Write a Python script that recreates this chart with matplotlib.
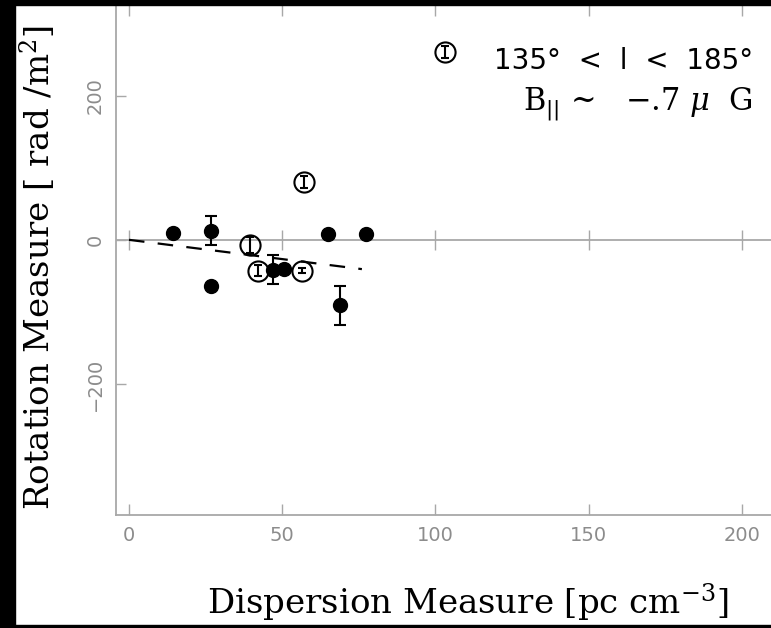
import matplotlib
matplotlib.use("Agg")
import matplotlib.pyplot as plt
from matplotlib.patches import Rectangle
import numpy as np

# ---- data ----
filled_dm = [14.5, 26.6, 26.6, 46.9, 50.7, 65.0, 69.0, 77.5]
filled_rm = [10.0, 12.5, -64.0, -41.7, -39.8, 8.3, -90.7, 8.3]
filled_err = [0, 20, 0, 20, 0, 0, 27, 0]

open_dm = [39.5, 42.0, 56.4, 57.0]
open_rm = [-7.0, -42.6, -42.6, 80.0]
open_err = [11, 8, 4, 8]

legend_dm = [103.0]
legend_rm = [261.0]
legend_err = [8]

fit_dm = [0.0, 76.0]
fit_slope = -0.535

xticks = [0, 50, 100, 150, 200]
yticks = [-200, 0, 200]
xlim = (-4.24, 209.5)
ylim = (-382, 326)

W, H = 771, 628
GRAY = "#a8a8a8"
LABGRAY = "#8c8c8c"

plt.rcParams["mathtext.fontset"] = "dejavuserif"

fig = plt.figure(figsize=(W / 100, H / 100), dpi=100, facecolor="white")
ax = fig.add_axes([116 / W, (H - 515) / H, 655 / W, 510 / H])
ax.set_xlim(*xlim)
ax.set_ylim(*ylim)

for s in ("top", "right"):
    ax.spines[s].set_visible(False)
for s in ("left", "bottom"):
    ax.spines[s].set_color(GRAY)
    ax.spines[s].set_linewidth(1.3)

ax.set_xticks(xticks)
ax.set_yticks(yticks)
ax.tick_params(axis="x", direction="in", length=8, width=1.0, color=GRAY,
               top=True, bottom=True, labelsize=14, labelcolor=LABGRAY, pad=8)
ax.tick_params(axis="y", direction="in", length=7, width=1.0, color=GRAY,
               left=True, right=False, labelsize=14, labelcolor=LABGRAY, pad=8)
for lab in ax.get_xticklabels() + ax.get_yticklabels():
    lab.set_fontfamily("DejaVu Sans")
for lab in ax.get_yticklabels():
    lab.set_rotation(90)
    lab.set_va("center")

# zero line with tick marks
ax.axhline(0, color=GRAY, lw=1.3, zorder=1)
ax.plot(xticks, np.zeros(len(xticks)), ls="none", marker="|", ms=15,
        mew=1.0, color=GRAY, zorder=1)

# dashed fit line
fit_dm_arr = np.array(fit_dm)
ax.plot(fit_dm_arr, fit_slope * fit_dm_arr, color="black", lw=1.6,
        dashes=(7, 6), zorder=2)

# filled points
fd = np.array(filled_dm); fr = np.array(filled_rm); fe = np.array(filled_err)
m = fe > 0
ax.errorbar(fd[m], fr[m], yerr=fe[m], fmt="none", ecolor="black",
            elinewidth=1.5, capsize=4, capthick=1.5, zorder=3)
ax.plot(fd, fr, ls="none", marker="o", ms=10, color="black", zorder=4)

# open points
od = np.array(open_dm + legend_dm); orr = np.array(open_rm + legend_rm)
oe = np.array(open_err + legend_err)
ax.errorbar(od, orr, yerr=oe, fmt="none", ecolor="black",
            elinewidth=1.5, capsize=3, capthick=1.5, zorder=3)
ax.plot(od, orr, ls="none", marker="o", ms=14.5, mfc="none", mec="black",
        mew=1.5, zorder=4)

# annotations
fig.text(494 / W, 1 - 61 / H, "135°  <  l  <  185°", fontsize=20,
         family="DejaVu Sans", ha="left", va="center")
fig.text(523 / W, 1 - 104 / H, r"B$_{||}$ ~   $-$.7 $\mu$  G", fontsize=22,
         family="DejaVu Serif", ha="left", va="center")

# axis labels
fig.text(468 / W, 1 - 603 / H, r"Dispersion Measure [pc cm$^{-3}$]",
         fontsize=24.5, family="DejaVu Serif", ha="center", va="center")
fig.text(38 / W, 1 - 268 / H, r"Rotation Measure [ rad /m$^{2}$]",
         fontsize=24.5, family="DejaVu Serif", ha="center", va="center",
         rotation=90)

# black frame borders
fig.patches.append(Rectangle((0, 0), 15 / W, 1, transform=fig.transFigure,
                             color="black", zorder=10))
fig.patches.append(Rectangle((0, 1 - 5 / H), 1, 5 / H, transform=fig.transFigure,
                             color="black", zorder=10))
fig.patches.append(Rectangle((0, 0), 1, 3 / H, transform=fig.transFigure,
                             color="black", zorder=10))

fig.savefig("out.png", dpi=100, facecolor="white")
